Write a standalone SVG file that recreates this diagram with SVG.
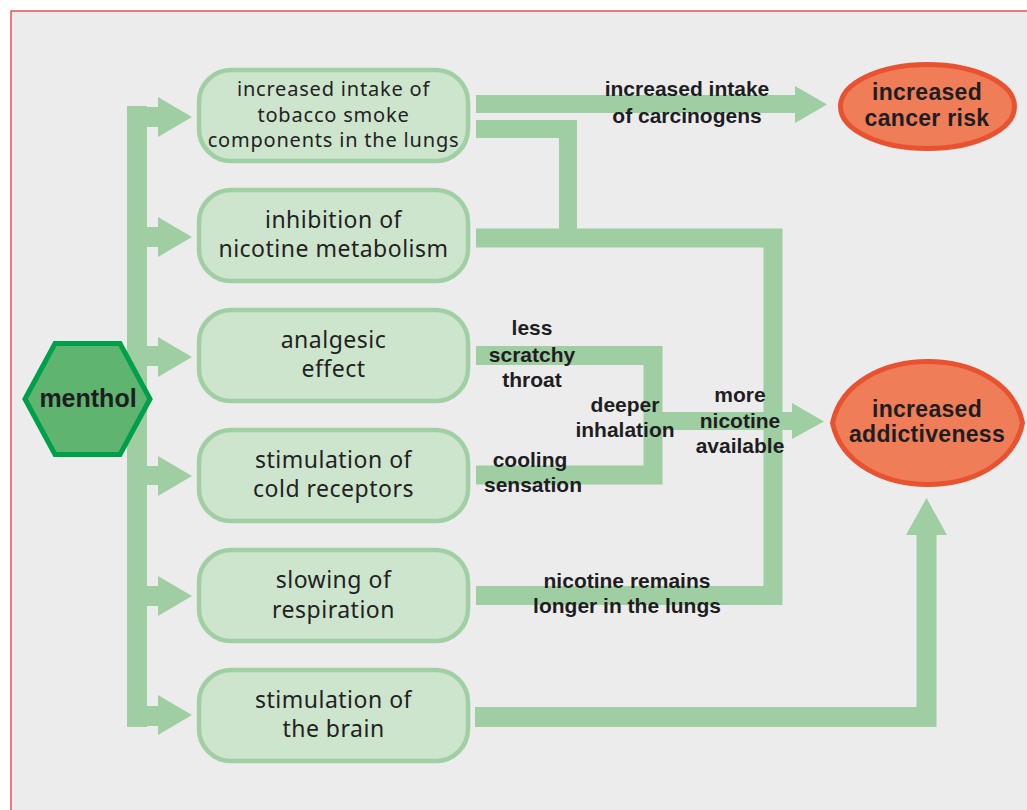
<svg xmlns="http://www.w3.org/2000/svg" width="1027" height="810" viewBox="0 0 1027 810">
<style>
.bg{fill:#ececec;stroke:#e2525c;stroke-width:1.5}
.box{fill:#cee5cd;stroke:#a0cfa3;stroke-width:4.5}
.bt{font-family:"Noto Sans","Open Sans",sans-serif;font-size:23px;letter-spacing:0.5px;fill:#222;text-anchor:middle}
.bt.s{font-size:20px;letter-spacing:0.8px}
.ln{fill:none;stroke:#9ecea2;stroke-linejoin:miter;stroke-linecap:butt}
.ah{fill:#9ecea2}
.lb{font-family:"Liberation Sans",Arial,sans-serif;font-weight:bold;font-size:21px;fill:#1e1e22;text-anchor:middle}
.ell{fill:#ef7d57;stroke:#e85230;stroke-width:5}
.et{font-family:"Liberation Sans",Arial,sans-serif;font-weight:bold;font-size:23px;letter-spacing:0.3px;fill:#1e1e22;text-anchor:middle}
</style>
<rect width="1027" height="810" fill="#ffffff"/>
<rect class="bg" x="11" y="11" width="1030" height="815"/>

<g id="connectors">
  <rect class="ah" x="127" y="106" width="20" height="621"/>
  <path class="ah" d="M147,107H158V97L192,117L158,137V127H147Z"/>
  <path class="ah" d="M147,227H158V217L192,237L158,257V247H147Z"/>
  <path class="ah" d="M147,346H158V337L192,357L158,377V366H147Z"/>
  <path class="ah" d="M147,466H158V456L192,476L158,496V485H147Z"/>
  <path class="ah" d="M147,586H158V576L192,596L158,616V606H147Z"/>
  <path class="ah" d="M147,706H158V695L192,715L158,735V726H147Z"/>
  <path class="ah" d="M476,95H795V86L827,104.5L795,123V113H476Z"/>
  <polyline class="ln" stroke-width="18" points="476,129 568,129 568,239"/>
  <polyline class="ln" stroke-width="19" points="476,238 773,238 773,595.5 476,595.5"/>
  <polyline class="ln" stroke-width="19" points="476,355.5 653,355.5 653,475 476,475"/>
  <path class="ah" d="M662,412H792V403L824,421.5L792,439V430H662Z"/>
  <polyline class="ln" stroke-width="20" points="475,717 926.5,717 926.5,534"/>
  <path class="ah" d="M906,535L926.5,498L947,535Z"/>
</g>

<g id="labels">
  <text class="lb" x="687" y="96">increased intake</text>
  <text class="lb" x="687" y="123">of carcinogens</text>
  <text class="lb" x="532" y="335">less</text>
  <text class="lb" x="532" y="362">scratchy</text>
  <text class="lb" x="532" y="387">throat</text>
  <text class="lb" x="625" y="412">deeper</text>
  <text class="lb" x="625" y="437">inhalation</text>
  <text class="lb" x="530" y="467">cooling</text>
  <text class="lb" x="533" y="492">sensation</text>
  <text class="lb" x="740" y="402">more</text>
  <text class="lb" x="740" y="428">nicotine</text>
  <text class="lb" x="740" y="453">available</text>
  <text class="lb" x="627" y="588">nicotine remains</text>
  <text class="lb" x="627" y="613">longer in the lungs</text>
</g>

<g id="menthol">
  <polygon points="25,399 55,343.5 120,343.5 150,399 120,454.5 55,454.5" fill="#5fb46f" stroke="#00a04b" stroke-width="5"/>
  <text x="88" y="407" font-family="Liberation Sans,Arial,sans-serif" font-weight="bold" font-size="25" fill="#1e1e22" text-anchor="middle">menthol</text>
</g>

<g id="box1">
  <rect class="box" x="199" y="70" width="269" height="91" rx="32"/>
  <text class="bt s" x="333.5" y="96">increased intake of</text>
  <text class="bt s" x="333.5" y="122">tobacco smoke</text>
  <text class="bt s" x="333.5" y="147">components in the lungs</text>
</g>
<g id="box2">
  <rect class="box" x="199" y="190" width="269" height="91" rx="32"/>
  <text class="bt" x="333.5" y="228">inhibition of</text>
  <text class="bt" x="333.5" y="257">nicotine metabolism</text>
</g>
<g id="box3">
  <rect class="box" x="199" y="310" width="269" height="91" rx="32"/>
  <text class="bt" x="333.5" y="348">analgesic</text>
  <text class="bt" x="333.5" y="377">effect</text>
</g>
<g id="box4">
  <rect class="box" x="199" y="430" width="269" height="91" rx="32"/>
  <text class="bt" x="333.5" y="468">stimulation of</text>
  <text class="bt" x="333.5" y="497">cold receptors</text>
</g>
<g id="box5">
  <rect class="box" x="199" y="550" width="269" height="91" rx="32"/>
  <text class="bt" x="333.5" y="588">slowing of</text>
  <text class="bt" x="333.5" y="618">respiration</text>
</g>
<g id="box6">
  <rect class="box" x="199" y="670" width="269" height="91" rx="32"/>
  <text class="bt" x="333.5" y="708">stimulation of</text>
  <text class="bt" x="333.5" y="737">the brain</text>
</g>

<g id="cancer">
  <ellipse class="ell" cx="927.5" cy="106.5" rx="87" ry="42"/>
  <text class="et" x="927" y="100">increased</text>
  <text class="et" x="927" y="126">cancer risk</text>
</g>
<g id="addict">
  <path class="ell" d="M832.5,423C850,341 1006,341 1022.5,423C1006,505 850,505 832.5,423Z"/>
  <text class="et" x="927" y="417">increased</text>
  <text class="et" x="927" y="442">addictiveness</text>
</g>
</svg>
